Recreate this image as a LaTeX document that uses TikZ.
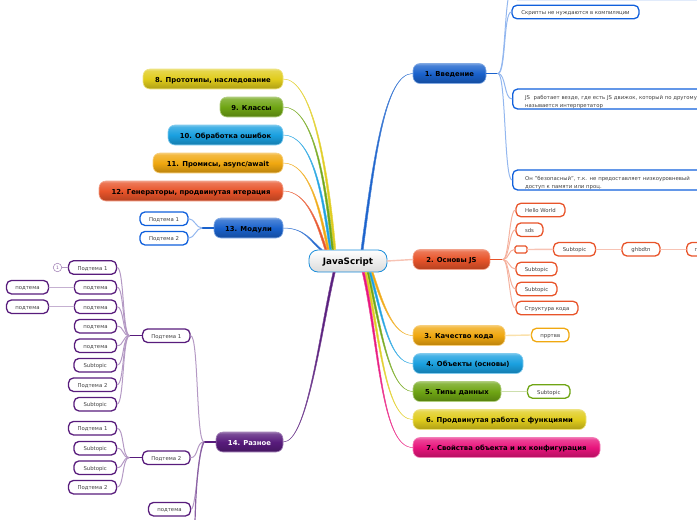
\documentclass[tikz,border=0pt]{standalone}
\usepackage{fontspec}
\setmainfont{DejaVu Sans}
\definecolor{cblue}{HTML}{1A62CC}
\definecolor{cleaf}{HTML}{1060DC}
\definecolor{cred}{HTML}{E8542A}
\definecolor{corange}{HTML}{F0A810}
\definecolor{ccyan}{HTML}{1AA0E0}
\definecolor{cgreen}{HTML}{6FA514}
\definecolor{cyellow}{HTML}{E0CC1C}
\definecolor{cpink}{HTML}{E8147C}
\definecolor{cpurple}{HTML}{581C7C}
\colorlet{basecol}{cblue}
\pgfdeclareverticalshading[basecol]{glossy}{100bp}{
	color(0bp)=(basecol!55!white);
	color(25bp)=(basecol!55!white);
	color(28bp)=(basecol!80!black);
	color(50bp)=(basecol);
	color(70bp)=(basecol!80!white);
	color(75bp)=(basecol!60!white);
	color(100bp)=(basecol!60!white)}
\tikzset{
	topic/.style={shading=glossy,/utils/exec={\colorlet{basecol}{#1}},draw=#1!55!white,line width=.6pt,rounded corners=7pt,inner sep=0pt,text height=6.6pt,text depth=0pt,font=\fontsize{6.85}{8}\bfseries},
	leaf/.style={draw=#1,line width=1.3pt,fill=white,rounded corners=5pt,inner sep=0pt,text=black!75,font=\fontsize{5.35}{7.3}\selectfont},
	short/.style={leaf=#1,text height=5.2pt,text depth=0pt},
	long/.style={leaf=#1,minimum height=20pt,anchor=west,align=left,text width=190pt,text depth=2.6pt},
	stem/.style={draw=#1,line width=1.2pt},
	twig/.style={draw=#1!45!white,line width=1pt},
	link/.style={draw=#1!35!white,line width=1.4pt}
}
% colour, topic anchor, control at topic, control at root, shift along root, side of root
\newcommand{\ribbon}[6]{
	\filldraw[fill=#1,draw=#1!80!white,line width=.5pt] (#2) .. controls +(#3) and +(#4) .. ([xshift=#5pt]root.#6)
	-- ([xshift=#5pt+2.2pt]root.#6) .. controls +(#4) and +(#3) .. (#2) -- cycle;
}
\begin{document}
\begin{tikzpicture}[x=1pt,y=-1pt,line join=round,line cap=round]
	\useasboundingbox (0,0) rectangle (697,520);
	\clip (0,0) rectangle (697,520);
	% main topics
	\foreach \n/\col/\xc/\yc/\w/\t in {
		a/cblue/449.5/73.5/73/{1. Введение},
		b/cred/451.5/259.5/77/{2. Основы JS},
		c/corange/459/335.5/92/{3. Качество кода},
		d/ccyan/468/363.5/110/{4. Объекты (основы)},
		e/cgreen/457/391.5/88/{5. Типы данных},
		f/cyellow/499.5/419.5/173/{6. Продвинутая работа с функциями},
		g/cpink/506.5/447.5/187/{7. Свойства объекта и их конфигурация},
		h/cyellow/213/79/140/{8. Прототипы, наследование},
		i/cgreen/251.5/107/63/{9. Классы},
		j/ccyan/225.5/135/115/{10. Обработка ошибок},
		k/corange/218/163/130/{11. Промисы, async/await},
		l/cred/191/191/184/{12. Генераторы, продвинутая итерация},
		m/cblue/248.5/228/69/{13. Модули}}
	\node[topic=\col,minimum width=\w pt,minimum height=20pt] (\n) at (\xc,\yc) {\t};
	\node[topic=cpurple,text=white,minimum width=67pt,minimum height=20pt] (n) at (249.5,442) {14. Разное};
	\node[top color=white,bottom color=black!14,draw=ccyan!70!cblue,line width=.8pt,rounded corners=9pt,minimum width=78pt,minimum height=22pt,inner sep=0pt,text height=6.6pt,text depth=0pt,font=\fontsize{8.8}{10}\bfseries] (root) at (348,261) {JavaScript};
	% first level leaves
	\foreach \n/\col/\xc/\yc/\w/\t in {
		a1/cleaf/575.5/12/127/{Скрипты не нуждаются в компиляции},
		b1/cred/540.5/210/49/{Hello World},
		b2/cred/529.5/229.7/27/{sds},
		b4/cred/574.5/249.3/42/{Subtopic},
		b5/cred/641/249.3/38/{ghbdtn},
		b7/cred/536.5/269/41/{Subtopic},
		b8/cred/536.5/289/41/{Subtopic},
		b9/cred/547/308/62/{Структура кода},
		c1/corange/550.3/335/37.5/{прртвв},
		e1/cgreen/548.8/391.5/42.5/{Subtopic},
		m1/cleaf/164/218.7/48/{Подтема 1},
		m2/cleaf/164/238.2/48/{Подтема 2},
		n1/cpurple/166.3/335.7/47.5/{Подтема 1},
		n2/cpurple/166.3/457.7/47.5/{Подтема 2},
		n3/cpurple/169.5/509.2/42/{подтема},
		p1/cpurple/92.5/267.5/48/{Подтема 1},
		p2/cpurple/95.5/287.2/42/{подтема},
		p3/cpurple/95.5/306.7/42/{подтема},
		p4/cpurple/95.5/326.2/42/{подтема},
		p5/cpurple/95.5/345.7/42/{подтема},
		p6/cpurple/95.2/365.2/42.5/{Subtopic},
		p7/cpurple/92.5/384.7/48/{Подтема 2},
		p8/cpurple/95.2/404.2/42.5/{Subtopic},
		q1/cpurple/27.5/287.2/42/{подтема},
		q2/cpurple/27.5/306.7/42/{подтема},
		r1/cpurple/92.5/428.2/48/{Подтема 1},
		r2/cpurple/95.2/448.2/42.5/{Subtopic},
		r3/cpurple/95.2/467.7/42.5/{Subtopic},
		r4/cpurple/92.5/487.2/48/{Подтема 2}}
	\node[short=\col,minimum width=\w pt,minimum height=13.5pt] (\n) at (\xc,\yc) {\t};
	\node[leaf=cred,rounded corners=1.5pt,minimum width=12pt,minimum height=7pt] (b3) at (521,249.5) {};
	% clipped at the page edge
	\node[leaf=cleaf,minimum width=250pt,minimum height=20pt,anchor=west] (a0) at (512,-10.5) {};
	\node[long=cleaf,minimum width=215pt] (a2) at (512,99) {JS\,\, работает везде, где есть JS движок, который по другому\\называется интерпретатор};
	\node[long=cleaf,minimum width=215pt] (a3) at (512,180) {Он "безопасный", т.к. не предоставляет низкоуровневый\\доступ к памяти или проц.};
	\node[short=cred,minimum width=40pt,minimum height=13.5pt,anchor=west,align=left,text width=30pt] (b6) at (686,249.3) {\hspace{3pt}п};
	\node[draw=cpurple!50!white,line width=.6pt,fill=white,circle,minimum size=8.5pt,inner sep=0pt,text=cpurple!70,font=\fontsize{4.5}{5}\selectfont] (p0) at (57.5,267.5) {1};
	% connectors
	\coordinate (aj) at (498,73.5);
	\coordinate (bj) at (503,259.5);
	\coordinate (mj) at (202,228);
	\coordinate (nj) at (204,442);
	\coordinate (oj) at (129.5,335.7);
	\coordinate (sj) at (129,457.7);
	\coordinate (bot) at (195,522);
	\draw[stem=cblue] (a.east)--(aj);
	\draw[stem=cred] (b.east)--(bj);
	\draw[stem=cblue] (m.west)--(mj);
	\draw[stem=cpurple] (n.west)--(nj);
	\draw[stem=cpurple] (n1.west)--(oj);
	\draw[stem=cpurple] (n2.west)--(sj);
	% root to topics
	\ribbon{cblue}{a.west}{-28,0}{12,-90}{13}{north}
	\draw[link=cred] (b.west)--(root.east);
	\ribbon{corange}{c.west}{-20,0}{10,30}{23}{south}
	\ribbon{ccyan}{d.west}{-24,0}{12,40}{20.8}{south}
	\ribbon{cgreen}{e.west}{-24,0}{12,50}{18.6}{south}
	\ribbon{cyellow}{f.west}{-28,0}{14,60}{16.4}{south}
	\ribbon{cpink}{g.west}{-32,0}{16,70}{14.2}{south}
	\ribbon{cyellow}{h.east}{28,0}{-8,-90}{-14.4}{north}
	\ribbon{cgreen}{i.east}{28,0}{-8,-80}{-16.6}{north}
	\ribbon{ccyan}{j.east}{28,0}{-8,-60}{-18.8}{north}
	\ribbon{corange}{k.east}{26,0}{-8,-40}{-21}{north}
	\ribbon{cred}{l.east}{24,0}{-8,-25}{-23.2}{north}
	\ribbon{cblue}{m.east}{22,0}{-10,-8}{-28}{north}
	\ribbon{cpurple}{n.east}{24,0}{-14,60}{-15}{south}
	% leaves of the right topics
	\foreach \x in {a0,a1,a2,a3}
	\draw[twig=cleaf] (aj) .. controls +(8,0) and +(-8,0) .. (\x.west);
	\foreach \x in {b1,b2,b3,b7,b8,b9}
	\draw[twig=cred] (bj) .. controls +(6,0) and +(-6,0) .. (\x.west);
	\draw[link=cred] (b3.east)--(b4.west);
	\draw[link=cred] (b4.east)--(b5.west);
	\draw[link=cred] (b5.east)--(b6.west);
	\draw[link=corange] (c.east)--(c1.west);
	\draw[link=cgreen] (e.east)--(e1.west);
	\foreach \x in {m1,m2}
	\draw[twig=cleaf] (mj) .. controls +(-6,0) and +(6,0) .. (\x.east);
	% leaves of 14
	\foreach \x in {n1,n2}
	\draw[twig=cpurple] (nj) .. controls +(-8,0) and +(8,0) .. (\x.east);
	\draw[twig=cpurple] (nj) .. controls +(-5,0) and +(5,0) .. (n3.east);
	\draw[stem=cpurple!70!white] (nj) .. controls +(-5,10) and +(1,-40) .. (bot);
	\foreach \x in {p1,p2,p3,p4,p5,p6,p7,p8}
	\draw[twig=cpurple] (oj) .. controls +(-7,0) and +(7,0) .. (\x.east);
	\foreach \x in {r1,r2,r3,r4}
	\draw[twig=cpurple] (sj) .. controls +(-7,0) and +(7,0) .. (\x.east);
	\draw[twig=cpurple] (p0.east)--(p1.west);
	\draw[link=cpurple] (q1.east)--(p2.west);
	\draw[link=cpurple] (q2.east)--(p3.west);
\end{tikzpicture}
\end{document}
